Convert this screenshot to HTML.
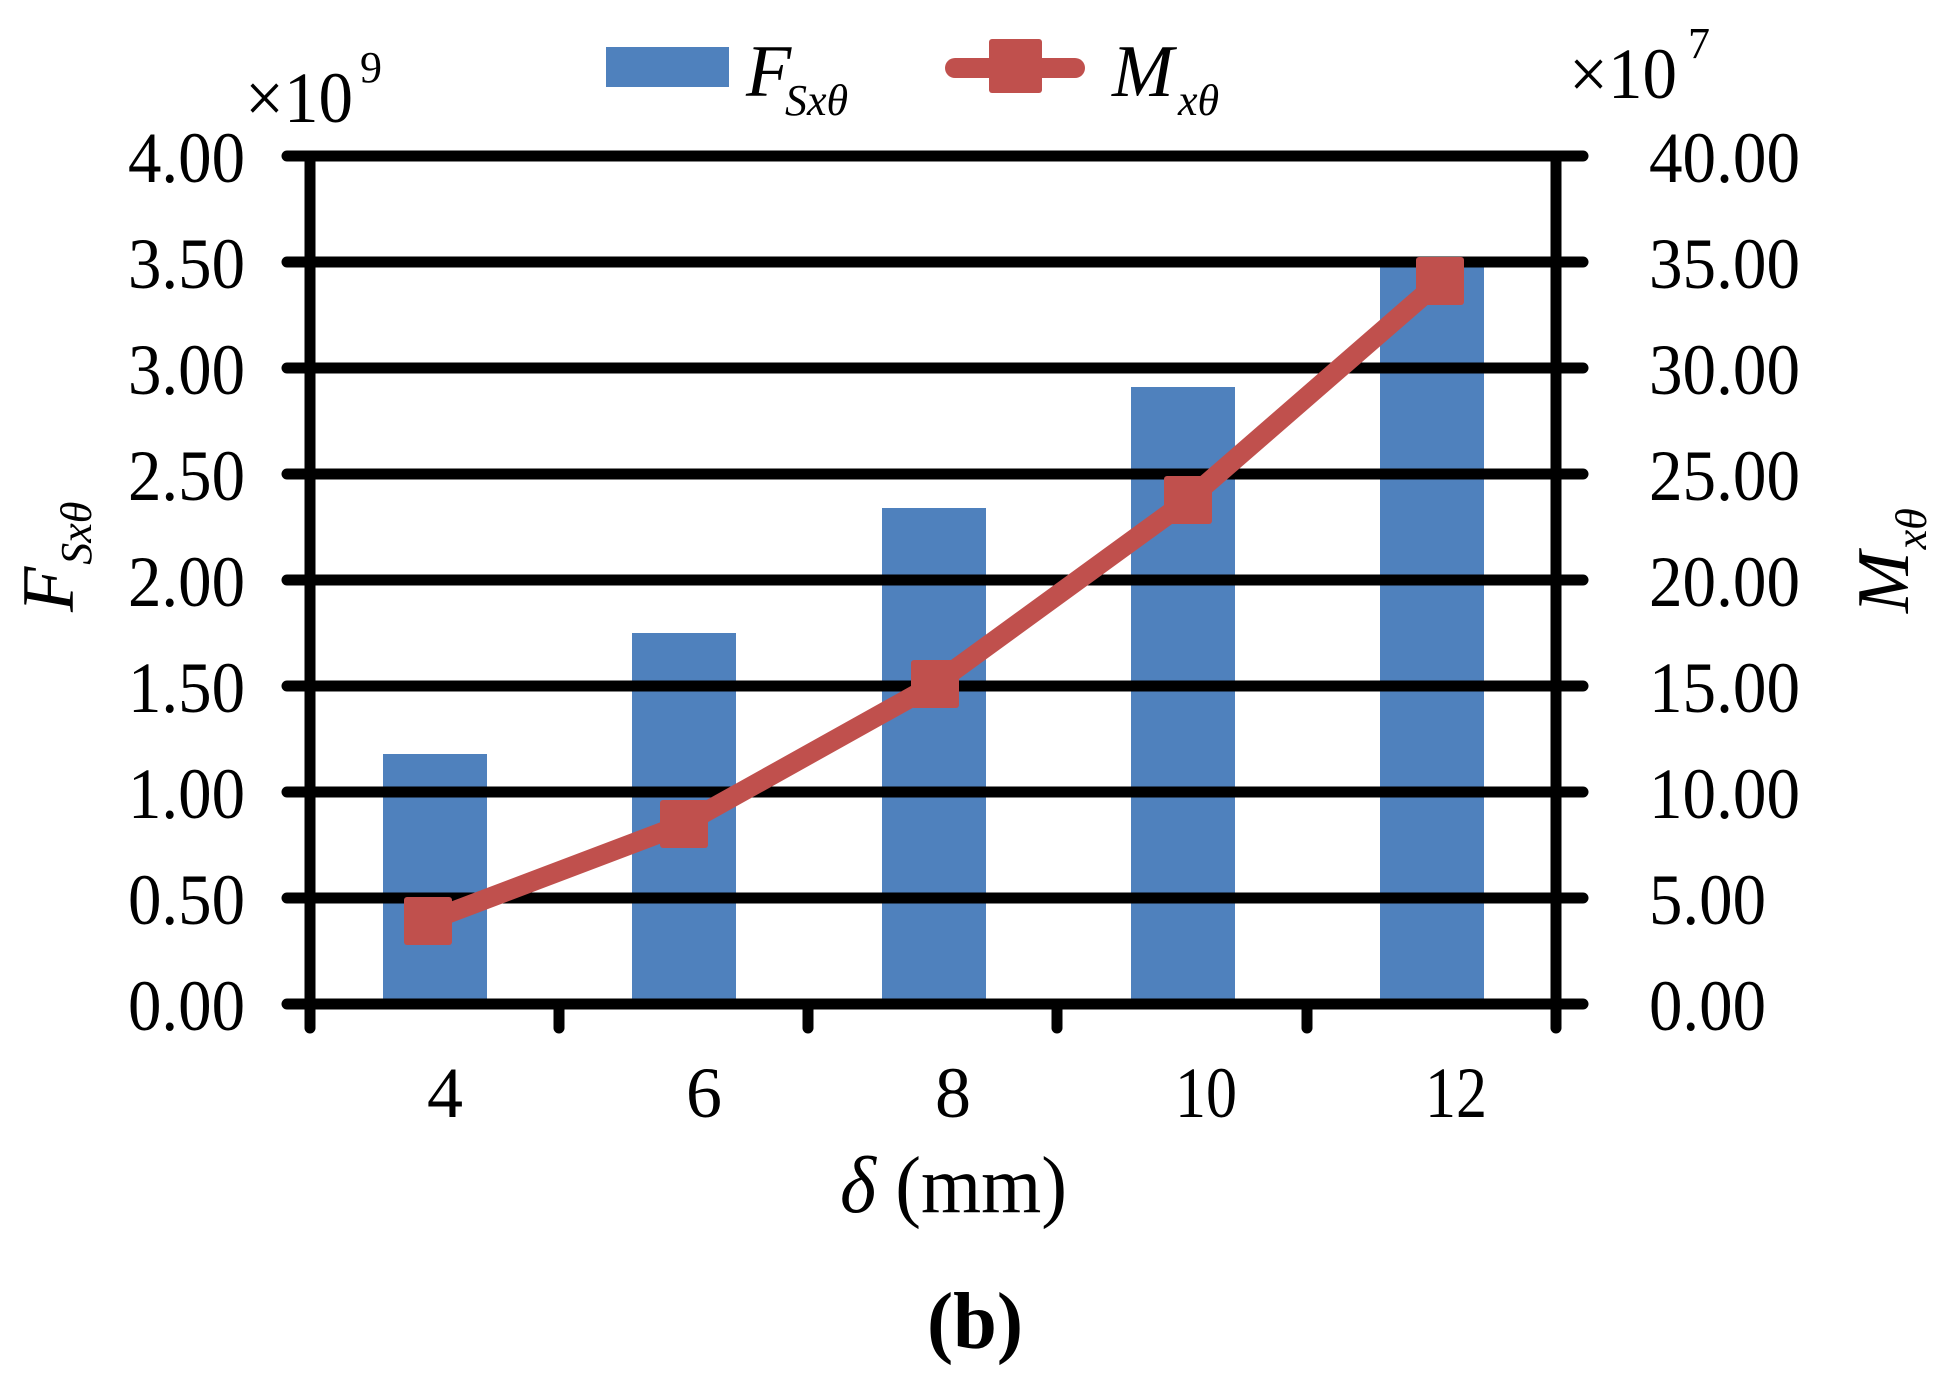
<!DOCTYPE html>
<html><head><meta charset="utf-8"><style>
html,body{margin:0;padding:0;background:#fff;}
svg{display:block;font-family:"Liberation Serif",serif;}
</style></head><body>
<svg width="1953" height="1390" viewBox="0 0 1953 1390" xmlns="http://www.w3.org/2000/svg">
<rect width="1953" height="1390" fill="#fff"/>
<!-- bars -->
<g fill="#4f81bd">
<rect x="383" y="754" width="104" height="250"/>
<rect x="632" y="633" width="104" height="371"/>
<rect x="882" y="508" width="104" height="496"/>
<rect x="1131" y="387" width="104" height="617"/>
<rect x="1380" y="261" width="104" height="743"/>
</g>
<!-- gridlines -->
<g stroke="#000" stroke-width="11" stroke-linecap="round">
<line x1="287" y1="156" x2="1583" y2="156"/>
<line x1="287" y1="262" x2="1583" y2="262"/>
<line x1="287" y1="368" x2="1583" y2="368"/>
<line x1="287" y1="474" x2="1583" y2="474"/>
<line x1="287" y1="580" x2="1583" y2="580"/>
<line x1="287" y1="686" x2="1583" y2="686"/>
<line x1="287" y1="792" x2="1583" y2="792"/>
<line x1="287" y1="898" x2="1583" y2="898"/>
<line x1="287" y1="1004" x2="1583" y2="1004"/>
<line x1="310" y1="156" x2="310" y2="1028"/>
<line x1="1556" y1="156" x2="1556" y2="1028"/>
<line x1="559" y1="1004" x2="559" y2="1028"/>
<line x1="808" y1="1004" x2="808" y2="1028"/>
<line x1="1057" y1="1004" x2="1057" y2="1028"/>
<line x1="1307" y1="1004" x2="1307" y2="1028"/>
</g>
<!-- line series -->
<polyline points="428,921 684,824 935,684 1188,500 1440,281" fill="none" stroke="#c0504d" stroke-width="20" stroke-linejoin="round"/>
<g fill="#c0504d">
<rect x="404" y="897" width="48" height="48" rx="3"/>
<rect x="660" y="800" width="48" height="48" rx="3"/>
<rect x="911" y="660" width="48" height="48" rx="3"/>
<rect x="1164" y="476" width="48" height="48" rx="3"/>
<rect x="1416" y="257" width="48" height="48" rx="3"/>
</g>
<!-- left tick labels -->
<g font-size="72" text-anchor="end">
<text x="245" y="182" textLength="117" lengthAdjust="spacingAndGlyphs">4.00</text>
<text x="245" y="288" textLength="117" lengthAdjust="spacingAndGlyphs">3.50</text>
<text x="245" y="394" textLength="117" lengthAdjust="spacingAndGlyphs">3.00</text>
<text x="245" y="500" textLength="117" lengthAdjust="spacingAndGlyphs">2.50</text>
<text x="245" y="606" textLength="117" lengthAdjust="spacingAndGlyphs">2.00</text>
<text x="245" y="712" textLength="117" lengthAdjust="spacingAndGlyphs">1.50</text>
<text x="245" y="818" textLength="117" lengthAdjust="spacingAndGlyphs">1.00</text>
<text x="245" y="924" textLength="117" lengthAdjust="spacingAndGlyphs">0.50</text>
<text x="245" y="1030" textLength="117" lengthAdjust="spacingAndGlyphs">0.00</text>
</g>
<g font-size="72">
<text x="1649" y="182" textLength="151" lengthAdjust="spacingAndGlyphs">40.00</text>
<text x="1649" y="288" textLength="151" lengthAdjust="spacingAndGlyphs">35.00</text>
<text x="1649" y="394" textLength="151" lengthAdjust="spacingAndGlyphs">30.00</text>
<text x="1649" y="500" textLength="151" lengthAdjust="spacingAndGlyphs">25.00</text>
<text x="1649" y="606" textLength="151" lengthAdjust="spacingAndGlyphs">20.00</text>
<text x="1649" y="712" textLength="151" lengthAdjust="spacingAndGlyphs">15.00</text>
<text x="1649" y="818" textLength="151" lengthAdjust="spacingAndGlyphs">10.00</text>
<text x="1649" y="924" textLength="117" lengthAdjust="spacingAndGlyphs">5.00</text>
<text x="1649" y="1030" textLength="117" lengthAdjust="spacingAndGlyphs">0.00</text>
</g>
<!-- x labels -->
<g font-size="72" text-anchor="middle">
<text x="445" y="1117">4</text>
<text x="704" y="1117">6</text>
<text x="953" y="1117">8</text>
<text x="1206" y="1117" textLength="62" lengthAdjust="spacingAndGlyphs">10</text>
<text x="1456" y="1117" textLength="62" lengthAdjust="spacingAndGlyphs">12</text>
</g>
<text x="840" y="1212" font-size="80" textLength="227" lengthAdjust="spacingAndGlyphs"><tspan font-style="italic">δ</tspan> (mm)</text>
<text x="927" y="1348" font-size="80" font-weight="bold" textLength="96" lengthAdjust="spacingAndGlyphs">(b)</text>
<!-- multipliers -->
<text x="245" y="122" font-size="72" textLength="108" lengthAdjust="spacingAndGlyphs">×10</text>
<text x="360" y="82" font-size="44">9</text>
<text x="1569" y="98" font-size="72" textLength="108" lengthAdjust="spacingAndGlyphs">×10</text>
<text x="1688" y="58" font-size="44">7</text>
<!-- legend -->
<rect x="606" y="47" width="123" height="40" fill="#4f81bd"/>
<text x="746" y="96" font-size="74" font-style="italic">F</text>
<text x="785" y="115" font-size="44" font-style="italic">Sxθ</text>
<line x1="955" y1="68" x2="1075" y2="68" stroke="#c0504d" stroke-width="20" stroke-linecap="round"/>
<rect x="989" y="39" width="53" height="54" rx="3" fill="#c0504d"/>
<text x="1112" y="96" font-size="74" font-style="italic">M</text>
<text x="1178" y="115" font-size="44" font-style="italic">xθ</text>
<!-- axis titles -->
<g transform="translate(73,612) rotate(-90)">
<text x="0" y="0" font-size="74" font-style="italic">F<tspan font-size="44" dx="2" dy="18">Sxθ</tspan></text>
</g>
<g transform="translate(1908,613) rotate(-90)">
<text x="0" y="0" font-size="74" font-style="italic">M<tspan font-size="44" dx="2" dy="18">xθ</tspan></text>
</g>
</svg>
</body></html>
